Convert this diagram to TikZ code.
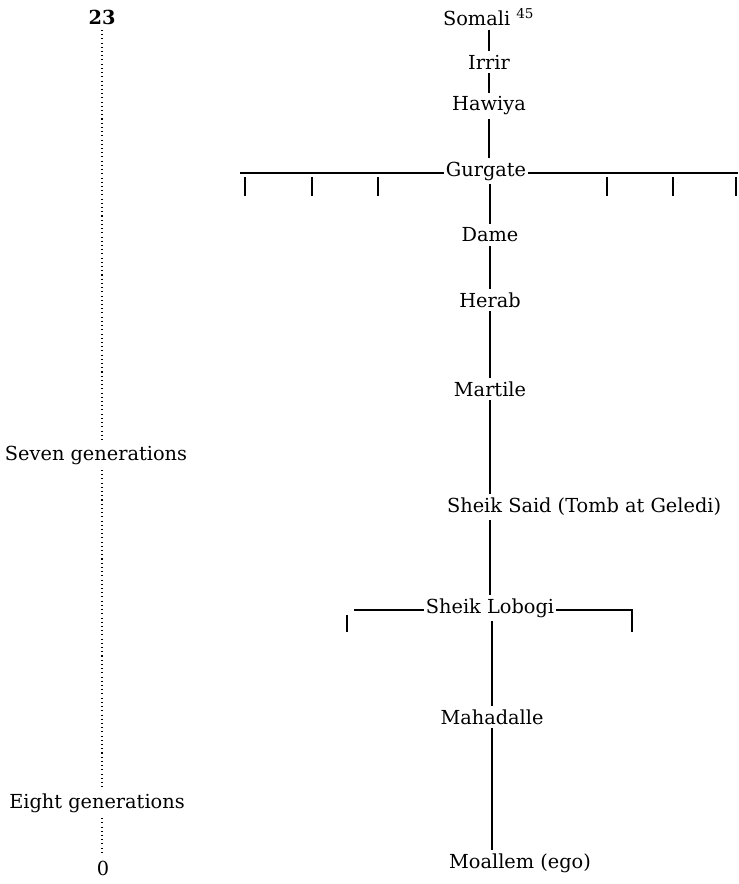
\documentclass[tikz,border=0pt]{standalone}
\usepackage{fontspec}
\setmainfont{DejaVu Serif}
\usepackage{tikz}
\usetikzlibrary{positioning, calc}
\tikzset{
  person/.style={inner ysep=2pt, inner xsep=1pt, font=\fontsize{11}{13}\selectfont},
  scalelabel/.style={inner sep=3pt, font=\fontsize{11}{13}\selectfont},
  lineage/.style={line width=0.8pt},
  branch/.style={line width=0.8pt},
  genscale/.style={line width=0.6pt, dash pattern=on 0.6pt off 1.8pt}
}

\begin{document}
\begin{tikzpicture}[x=0.02cm, y=-0.02cm]
    \useasboundingbox (0,0) rectangle (738,884);

    % generation scale on the left
    \node (top) [scalelabel] at (102,17) {\textbf{23}};
    \node (seven) [scalelabel] at (96,455) {Seven generations};
    \node (eight) [scalelabel] at (97,803) {Eight generations};
    \node (zero) [scalelabel] at (103,868) {0};

    \draw [genscale] (top) -- (top |- seven.north);
    \draw [genscale] (top |- seven.south) -- (top |- eight.north);
    \draw [genscale] (top |- eight.south) -- (top |- zero.north);

    % line of descent
    \node (somali) [person, anchor=west] at (441,17) {Somali \textsuperscript{45}};
    \node (irrir) [person] at (489,62) {Irrir};
    \node (hawiya) [person] at (489,106) {Hawiya};
    \node (gurgate) [person] at (486,171) {Gurgate};
    \node (dame) [person] at (490,235) {Dame};
    \node (herab) [person] at (490,300) {Herab};
    \node (martile) [person] at (490,389) {Martile};
    \node (said) [person, anchor=west] at (445,507) {Sheik Said (Tomb at Geledi)};
    \node (lobogi) [person] at (490,608) {Sheik Lobogi};
    \node (mahadalle) [person] at (492,717) {Mahadalle};
    \node (moallem) [person] at (520,863) {Moallem (ego)};

    \draw [lineage] (irrir |- somali.south) -- (irrir);
    \draw [lineage] (irrir) -- (hawiya);
    \draw [lineage] (hawiya) -- (hawiya |- gurgate.north);
    \draw [lineage] (dame |- gurgate.south) -- (dame);
    \draw [lineage] (dame) -- (herab);
    \draw [lineage] (herab) -- (martile);
    \draw [lineage] (martile) -- (martile |- said.north);
    \draw [lineage] (lobogi |- said.south) -- (lobogi);
    \draw [lineage] (mahadalle |- lobogi.south) -- (mahadalle);
    \draw [lineage] (mahadalle) -- (mahadalle |- moallem.north);

    % collateral branches of Gurgate
    \coordinate (gleft) at (240,173);
    \coordinate (gright) at (738,173);
    \draw [branch] (gurgate.west |- gleft) -- (gleft);
    \draw [branch] (gurgate.east |- gright) -- (gright);
    \foreach \x in {245,312,378,607,673,736}
        \draw [branch] (\x,177) -- (\x,196);

    % collateral branches of Sheik Lobogi
    \coordinate (lleft) at (354,610);
    \coordinate (lright) at (632,610);
    \draw [branch] (lobogi.west |- lleft) -- (lleft);
    \draw [branch] (lobogi.east |- lright) -- (lright) -- ++(0,22);
    \draw [branch] (347,615) -- (347,632);
\end{tikzpicture}
\end{document}
